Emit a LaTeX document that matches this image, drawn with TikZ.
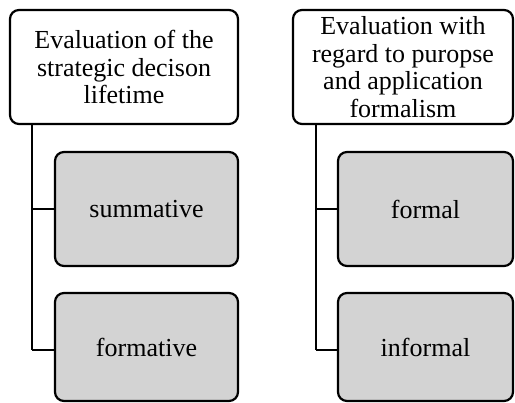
\documentclass[tikz,border=0pt]{standalone}
\usepackage{fontspec}
\setmainfont{Liberation Serif}
\usetikzlibrary{calc}
\definecolor{boxgray}{HTML}{D3D3D3}
\tikzset{
  box/.style={draw=black, line width=2.2pt, rounded corners=9pt, align=center,
    inner sep=0pt, font=\fontsize{26}{27.5}\selectfont},
  headbox/.style={box, fill=white},
  itembox/.style={box, fill=boxgray},
  vline/.style={line width=2.6pt, draw=black},
  hline/.style={line width=1.8pt, draw=black}
}
\begin{document}
\begin{tikzpicture}[x=1pt,y=1pt]
\useasboundingbox (0,0) rectangle (515,-403);
% left column
\node[headbox, minimum width=228, minimum height=114] (t1) at (124,-67)
  {Evaluation of the\\strategic decison\\lifetime};
\node[itembox, minimum width=183, minimum height=114] (s1) at (146.5,-209) {summative};
\node[itembox, minimum width=183, minimum height=108] (f1) at (146.5,-347) {\raisebox{-3pt}{formative}};
% right column
\node[headbox, minimum width=220, minimum height=114] (t2) at (403,-67)
  {Evaluation with\\regard to puropse\\and application\\formalism};
\node[itembox, minimum width=175, minimum height=114] (s2) at (425.5,-209) {formal};
\node[itembox, minimum width=175, minimum height=108] (f2) at (425.5,-347) {\raisebox{-3pt}{informal}};
% connectors
\coordinate (a1) at ($(t1.south west)+(23,0)$);
\coordinate (b1) at ($(f1.west)+(0,-3)$);
\draw[vline] (a1) -- (a1 |- b1);
\draw[hline] (a1 |- s1.west) -- (s1.west);
\draw[hline] (a1 |- b1) -- (b1);
\coordinate (a2) at ($(t2.south west)+(24,0)$);
\coordinate (b2) at ($(f2.west)+(0,-3)$);
\draw[vline] (a2) -- (a2 |- b2);
\draw[hline] (a2 |- s2.west) -- (s2.west);
\draw[hline] (a2 |- b2) -- (b2);
\end{tikzpicture}
\end{document}
